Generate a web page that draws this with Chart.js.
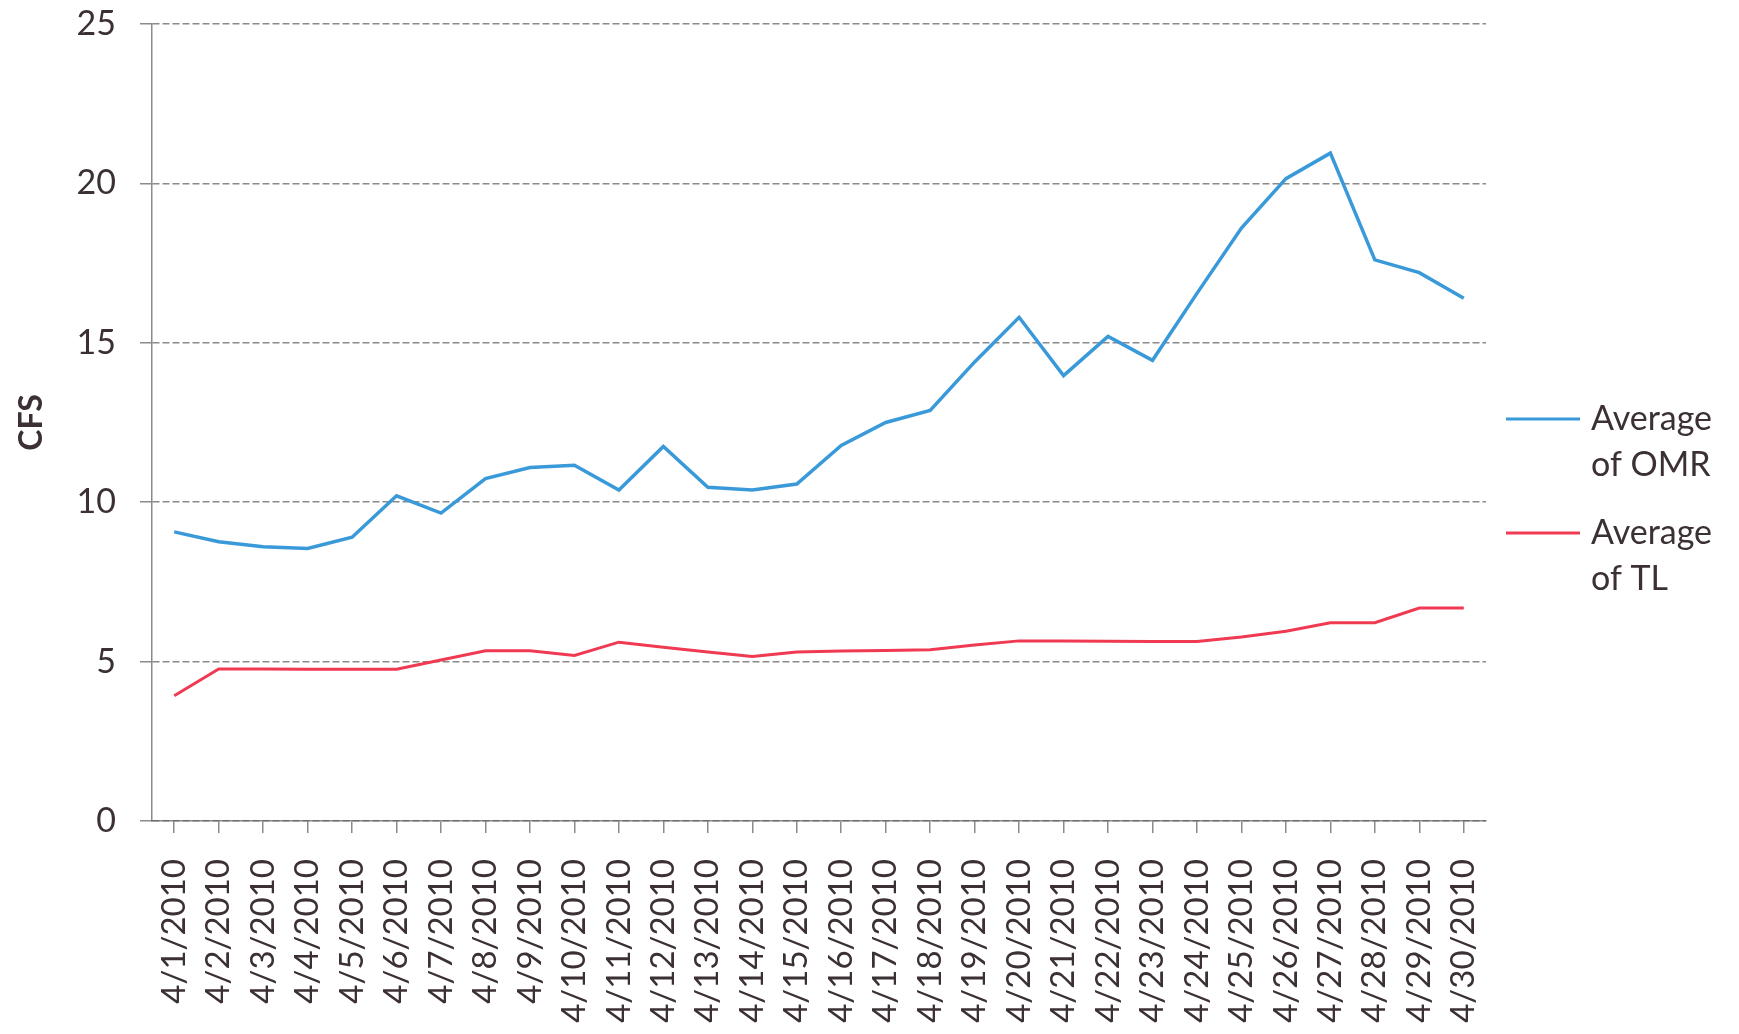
<!DOCTYPE html>
<html>
<head>
<meta charset="utf-8">
<script src="https://cdn.jsdelivr.net/npm/chart.js@4/dist/chart.umd.min.js"></script>
<style>
  html, body { margin: 0; padding: 0; background: #fff; }
  canvas { display: block; }
</style>
</head>
<body>
<canvas id="flowChart" width="1739" height="1034"></canvas>
<script>
const days = ['4/1/2010', '4/2/2010', '4/3/2010', '4/4/2010', '4/5/2010', '4/6/2010', '4/7/2010', '4/8/2010', '4/9/2010', '4/10/2010',
    '4/11/2010', '4/12/2010', '4/13/2010', '4/14/2010', '4/15/2010', '4/16/2010', '4/17/2010', '4/18/2010', '4/19/2010', '4/20/2010',
    '4/21/2010', '4/22/2010', '4/23/2010', '4/24/2010', '4/25/2010', '4/26/2010', '4/27/2010', '4/28/2010', '4/29/2010', '4/30/2010']
const omr = [9.07, 8.76, 8.6, 8.55, 8.9, 10.2, 9.66, 10.74, 11.09, 11.16,
    10.38, 11.75, 10.47, 10.38, 10.57, 11.78, 12.5, 12.88, 14.4, 15.8,
    13.97, 15.2, 14.45, 16.55, 18.6, 20.15, 20.95, 17.6, 17.2, 16.4]
const tl = [3.93, 4.77, 4.77, 4.76, 4.76, 4.76, 5.05, 5.34, 5.34, 5.19,
    5.61, 5.45, 5.3, 5.16, 5.3, 5.33, 5.35, 5.37, 5.52, 5.65,
    5.65, 5.64, 5.63, 5.63, 5.77, 5.95, 6.22, 6.22, 6.68, 6.68]
const yTicks = [0, 5, 10, 15, 20, 25]

const textColor = '#3b3035'
const gridColor = 'rgba(100,100,100,0.75)'
const fontFamily = 'Lato, "Open Sans", sans-serif'

// legend on the right, labels split over two lines
const sideLegend = {
    id: 'sideLegend',
    afterDraw(chart) {
        const ctx = chart.ctx
        const left = chart.chartArea.right + 20
        const rows = [419, 533]
        ctx.save()
        ctx.font = '34px ' + fontFamily
        ctx.fillStyle = textColor
        ctx.textBaseline = 'middle'
        chart.data.datasets.forEach((ds, i) => {
            const y = rows[i]
            ctx.strokeStyle = ds.borderColor
            ctx.lineWidth = 3
            ctx.beginPath()
            ctx.moveTo(left, y)
            ctx.lineTo(left + 74, y)
            ctx.stroke()
            const cut = ds.label.indexOf(' ')
            ctx.fillText(ds.label.slice(0, cut), left + 85, y)
            ctx.fillText(ds.label.slice(cut + 1), left + 85, y + 46)
        })
        ctx.restore()
    }
}

new Chart(document.getElementById('flowChart'), {
    type: 'line',
    data: {
        labels: days,
        datasets: [{
            label: 'Average of OMR',
            data: omr,
            borderColor: '#3a9ad9',
            borderWidth: 3.5,
            pointRadius: 0,
            tension: 0
        }, {
            label: 'Average of TL',
            data: tl,
            borderColor: '#ef3a52',
            borderWidth: 3,
            pointRadius: 0,
            tension: 0
        }]
    },
    options: {
        responsive: false,
        animation: false,
        devicePixelRatio: 1,
        layout: { padding: { top: 24, right: 253, left: 0, bottom: 0 } },
        plugins: {
            legend: { display: false },
            tooltip: { enabled: false }
        },
        scales: {
            x: {
                offset: true,
                grid: {
                    drawOnChartArea: false,
                    drawTicks: true,
                    tickLength: 12,
                    color: gridColor,
                    lineWidth: 1.5
                },
                border: { color: gridColor, width: 1.5, dash: [7, 3] },
                ticks: {
                    autoSkip: false,
                    maxRotation: 90,
                    minRotation: 90,
                    padding: 26,
                    color: textColor,
                    font: { family: fontFamily, size: 33 }
                },
                afterFit: (scale) => { scale.height = 213 }
            },
            y: {
                min: 0,
                max: 25,
                afterBuildTicks: (scale) => { scale.ticks = yTicks.map(v => ({ value: v })) },
                grid: {
                    color: gridColor,
                    lineWidth: 1.5,
                    tickLength: 12,
                    borderDash: [7, 3]
                },
                border: { color: gridColor, width: 1.5, dash: [7, 3] },
                ticks: {
                    padding: 24,
                    color: textColor,
                    font: { family: fontFamily, size: 34 }
                },
                title: {
                    display: true,
                    text: 'CFS',
                    color: textColor,
                    font: { family: fontFamily, size: 32, weight: 'bold' },
                    padding: { top: 12, bottom: 0 }
                },
                afterFit: (scale) => {
                    scale.width = 152
                    scale.paddingTop = 0
                    scale.paddingBottom = 0
                }
            }
        }
    },
    plugins: [sideLegend]
});
</script>
</body>
</html>
